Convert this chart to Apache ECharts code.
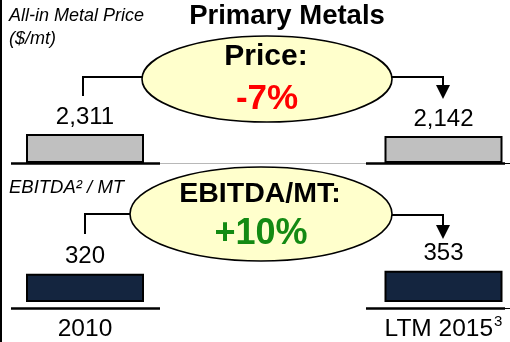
<!DOCTYPE html>
<html>
<head>
<meta charset="utf-8">
<script src="https://cdn.jsdelivr.net/npm/echarts@6/dist/echarts.min.js"></script>
<style>
html,body{margin:0;padding:0;background:#fff;}
#c{width:510px;height:342px;}
</style>
</head>
<body>
<div id="c"></div>
<script>
const categories = ['2010', 'LTM 2015³'];
const priceValues = [2311, 2142];
const ebitdaValues = [320, 353];
const titleText = 'Primary Metals';
const priceAxisTitle = ['All-in Metal Price', '($/mt)'];
const ebitdaAxisTitle = 'EBITDA² / MT';
const priceCallout = ['Price:', '-7%'];
const ebitdaCallout = ['EBITDA/MT:', '+10%'];

const FONT = '"Liberation Sans", Arial, sans-serif';
const chart = echarts.init(document.getElementById('c'), null, {renderer: 'canvas'});

function fmt(v) { return v.toLocaleString('en-US'); }

function txt(x, y, text, size, color, weight, style, align) {
  return {
    type: 'text', x: x, y: y, z: 100,
    style: {
      text: text, fill: color || '#000',
      font: (style || 'normal') + ' ' + (weight || 'normal') + ' ' + size + 'px ' + FONT,
      textAlign: align || 'center', textVerticalAlign: 'middle'
    }
  };
}
function line(points, w) {
  return { type: 'polyline', z: 50, shape: { points: points }, style: { stroke: '#000', lineWidth: w || 2, fill: null } };
}
function arrow(x, yTip) {
  return { type: 'polygon', z: 50, shape: { points: [[x - 7, yTip - 14], [x + 7, yTip - 14], [x, yTip]] }, style: { fill: '#000' } };
}
function ellipse(cx, cy, rx, ry) {
  return { type: 'ellipse', z: 40, shape: { cx: cx, cy: cy, rx: rx, ry: ry }, style: { fill: '#FFFFCC', stroke: '#000', lineWidth: 1.6 } };
}

const option = {
  animation: false,
  backgroundColor: '#fff',
  textStyle: { fontFamily: FONT },
  grid: [
    { left: 85, right: 66.5, top: 100, bottom: 179 },
    { left: 85, right: 66.5, top: 240, bottom: 34 }
  ],
  xAxis: [
    { type: 'category', gridIndex: 0, data: categories, boundaryGap: false,
      axisLine: { show: true, lineStyle: { color: '#b8b8b8', width: 1 } },
      axisTick: { show: false }, axisLabel: { show: false } },
    { type: 'category', gridIndex: 1, data: categories, boundaryGap: false,
      axisLine: { show: false },
      axisTick: { show: false },
      axisLabel: { show: true, margin: 12,
        formatter: v => {
          const i = v.indexOf('³');
          return i < 0 ? '{a|' + v + '}' : '{a|' + v.slice(0, i) + '}{s|3}';
        },
        rich: {
          a: { color: '#000', fontSize: 24.5, fontFamily: FONT, verticalAlign: 'bottom', lineHeight: 28 },
          s: { color: '#000', fontSize: 15, fontFamily: FONT, verticalAlign: 'top', padding: [0, 0, 12, 1], lineHeight: 28 }
        } } }
  ],
  yAxis: [
    { type: 'value', gridIndex: 0, min: 0, max: 5000, show: false, splitLine: { show: false } },
    { type: 'value', gridIndex: 1, min: 0, max: 700, show: false, splitLine: { show: false } }
  ],
  series: [
    { type: 'bar', xAxisIndex: 0, yAxisIndex: 0, data: priceValues, barWidth: 118, clip: false,
      itemStyle: { color: '#C0C0C0', borderColor: '#000', borderWidth: 2 },
      label: { show: true, position: 'top', distance: 5, color: '#000', fontSize: 24, fontFamily: FONT,
        formatter: p => fmt(p.value) } },
    { type: 'bar', xAxisIndex: 1, yAxisIndex: 1, data: ebitdaValues, barWidth: 118, clip: false,
      itemStyle: { color: '#14253F', borderColor: '#000', borderWidth: 2 },
      label: { show: true, position: 'top', distance: 5, color: '#000', fontSize: 24, fontFamily: FONT,
        formatter: p => fmt(p.value) } }
  ],
  graphic: [
    { type: 'line', z: 60, shape: { x1: 1, y1: 0, x2: 1, y2: 342 }, style: { stroke: '#000', lineWidth: 2 } },
    // baselines
    line([[11, 163.5], [160, 163.5]], 2.5),
    line([[366, 163.5], [505, 163.5]], 2.5),
    line([[505, 163.5], [510, 163.5]], 1),
    line([[11, 308.5], [160, 308.5]], 2.5),
    line([[366, 308.5], [505, 308.5]], 2.5),
    line([[505, 308.5], [510, 308.5]], 1),
    // top callout
    txt(9, 16, priceAxisTitle[0], 18, '#000', 'normal', 'italic', 'left'),
    txt(9, 39, priceAxisTitle[1], 18, '#000', 'normal', 'italic', 'left'),
    txt(287, 16, titleText, 27.5, '#000', 'bold'),
    ellipse(267, 79, 125, 43),
    line([[83, 96], [83, 77], [142, 77]], 2),
    line([[392, 77], [443, 77], [443, 88]], 2),
    arrow(443, 99),
    txt(266, 57, priceCallout[0], 30, '#000', 'bold'),
    txt(267, 99, priceCallout[1], 35, '#FF0000', 'bold'),
    // bottom callout
    txt(9, 188, ebitdaAxisTitle, 18.5, '#000', 'normal', 'italic', 'left'),
    ellipse(261, 214, 131, 47),
    line([[85, 234], [85, 214], [130, 214]], 2),
    line([[392, 215], [443, 215], [443, 228]], 2),
    arrow(443, 239),
    txt(260, 194, ebitdaCallout[0], 28.5, '#000', 'bold'),
    txt(261, 234, ebitdaCallout[1], 36, '#138A13', 'bold')
  ]
};
chart.setOption(option);
</script>
</body>
</html>
